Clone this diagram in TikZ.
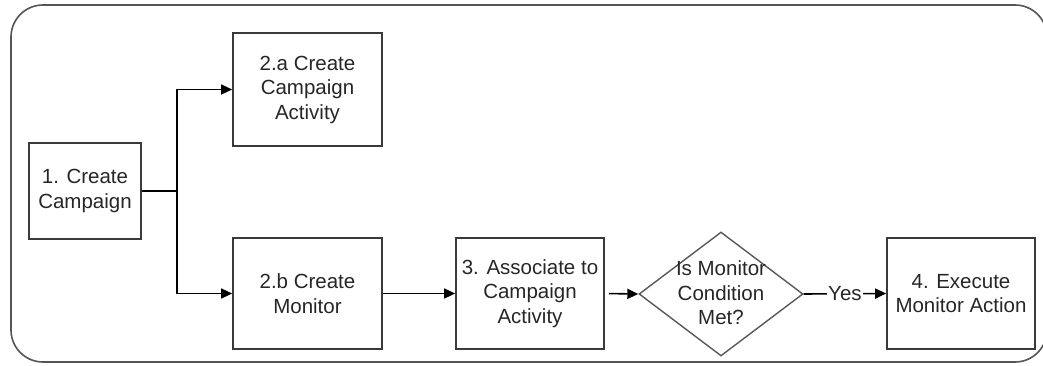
\documentclass[tikz,border=0pt]{standalone}
\usepackage{fontspec}
\setmainfont{Liberation Sans}
\usetikzlibrary{arrows.meta,shapes.geometric}
\definecolor{linegray}{HTML}{3A3A3A}
\definecolor{framegray}{HTML}{555555}
\definecolor{textgray}{HTML}{262626}
\tikzset{
  stepbox/.style={draw=linegray, line width=1.7pt, inner sep=0pt, align=center,
    font=\fontsize{20.5}{24.5}\selectfont, text=textgray},
  decision/.style={diamond, draw=linegray!85, line width=1.4pt, inner sep=0pt},
  lbl/.style={align=center, font=\fontsize{20.5}{24.5}\selectfont, text=textgray},
  conn/.style={draw=black, line width=1.6pt, -{Triangle[length=11pt,width=10pt]}},
  plainconn/.style={draw=black, line width=1.6pt},
  frame/.style={draw=framegray, line width=1.6pt, rounded corners=32pt}
}
\begin{document}
\begin{tikzpicture}[x=1pt,y=-1pt]
\useasboundingbox (0,0) rectangle (1043,366);
\clip (0,0) rectangle (1043,366);
\draw[frame] (11,5) rectangle (1047,362);

\node[stepbox, minimum width=112pt, minimum height=96pt] (b1) at (85,191) {1. Create\\Campaign};
\node[stepbox, minimum width=149pt, minimum height=113pt] (b2a) at (307.5,89.5) {2.a Create\\Campaign\\Activity};
\node[stepbox, minimum width=149pt, minimum height=111pt] (b2b) at (307.5,293.5) {2.b Create\\Monitor};
\node[stepbox, minimum width=148pt, minimum height=111pt] (b3) at (530,293.5) {3. Associate to\\Campaign\\Activity};
\node[decision, minimum width=164pt, minimum height=124pt] (d) at (721,294) {};
\node[lbl] (dt) at (721,293) {Is Monitor\\Condition\\Met?};
\node[stepbox, minimum width=148pt, minimum height=111pt] (b4) at (961,293.5) {4. Execute\\Monitor Action};

\coordinate (split) at (177,191);
\draw[plainconn] (b1.east) -- (split);
\draw[conn] (split) |- (b2a.west);
\draw[conn] (split) |- (b2b.west);
\draw[conn] (b2b.east) -- (b3.west);
\draw[conn, shorten <=4pt] (b3.east) -- (d.west);
\draw[conn] (d.east) -- node[lbl, fill=white, inner sep=1pt] (yes) {Yes} (b4.west);
\end{tikzpicture}
\end{document}
